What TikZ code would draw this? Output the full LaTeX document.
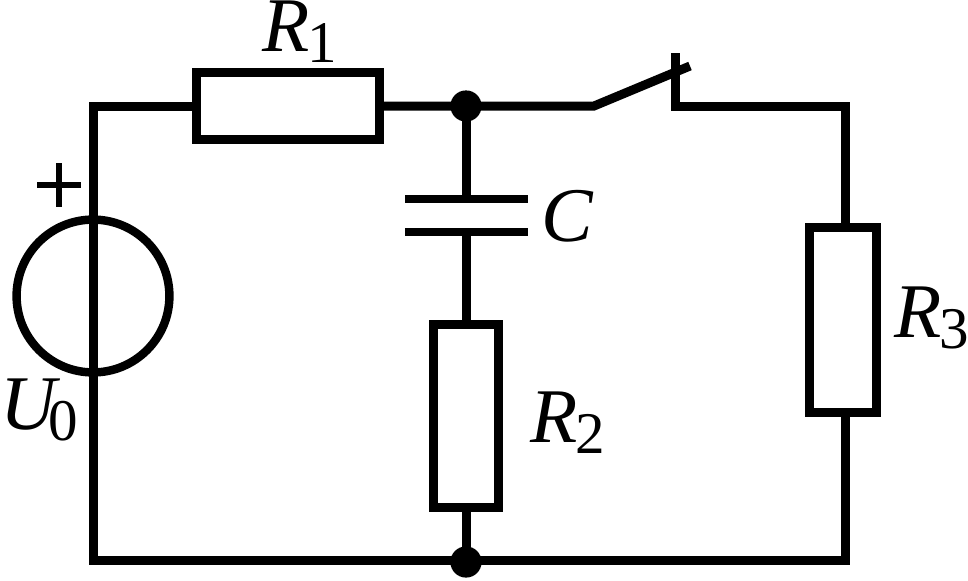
\documentclass[tikz,border=0pt]{standalone}
\usepackage{fontspec}
\setmainfont{Liberation Serif}
\newcommand{\sublbl}[2]{#1\kern-0.06cm\raisebox{-0.28cm}{\normalfont\fontsize{42}{42}\selectfont #2}}
\tikzset{
  wire/.style={line width=6.4pt,line join=miter},
  resistor/.style={draw,line width=6.4pt,outer sep=0pt,inner sep=0pt},
  dot/.style={circle,fill=black,inner sep=0pt,outer sep=0pt,minimum size=0.78cm},
  plate/.style={line width=5.6pt},
  lbl/.style={font=\fontsize{55}{55}\selectfont\itshape,inner sep=0pt,anchor=base west}
}
\begin{document}
\begin{tikzpicture}[x=0.025cm,y=-0.025cm]
  \useasboundingbox (0,0) rectangle (968,580);
  % corners
  \coordinate (lt) at (93,106);
  \coordinate (lb) at (93,560);
  \coordinate (rt) at (845,106);
  \coordinate (rb) at (845,560);
  % switch
  \coordinate (sw1) at (594,106);
  \coordinate (sw2) at (690,66);
  \coordinate (con1) at (675,53);
  \coordinate (con2) at (675,106);
  % capacitor
  \coordinate (capa) at (466,199);
  \coordinate (capb) at (466,232);
  \coordinate (pa1) at (405,199);
  \coordinate (pa2) at (528,199);
  \coordinate (pb1) at (405,232);
  \coordinate (pb2) at (528,232);
  % plus sign
  \coordinate (pl1) at (37,185);
  \coordinate (pl2) at (81,185);
  \coordinate (pl3) at (59,163);
  \coordinate (pl4) at (59,207);

  \node[resistor,minimum width=4.55cm,minimum height=1.65cm] (rone) at (288,106) {};
  \node[resistor,minimum width=1.62cm,minimum height=4.58cm] (rtwo) at (466,416) {};
  \node[resistor,minimum width=1.68cm,minimum height=4.6cm] (rthree) at (843,320) {};
  \node[dot] (top) at (466,106) {};
  \node[dot] (bot) at (466,562) {};
  \node[draw,circle,line width=6pt,minimum size=3.82cm,inner sep=0pt,outer sep=0pt] (src) at (93,296) {};

  \draw[wire] (rone.west) -- (lt) -- (lb) -- (rb) -- (rb |- rthree.south);
  \draw[wire] (rt |- rthree.north) -- (rt) -- (con2) -- (con1);
  \draw[wire] (rone.east) -- (top.center) -- (sw1) -- (sw2);
  \draw[wire] (top.center) -- (capa);
  \draw[wire] (capb) -- (rtwo.north);
  \draw[wire] (rtwo.south) -- (bot.center);
  \draw[plate] (pa1) -- (pa2);
  \draw[plate] (pb1) -- (pb2);
  \draw[line width=4.6pt] (pl1) -- (pl2);
  \draw[line width=4.6pt] (pl3) -- (pl4);

  \node[lbl] (lone) at (262,51) {\sublbl{R}{1}};
  \node[lbl] (ltwo) at (530,442) {\sublbl{R}{2}};
  \node[lbl] (lthree) at (894,337) {\sublbl{R}{3}};
  \node[lbl] (lcap) at (541,241) {C};
  \node[lbl] (lsrc) at (0,429) {\sublbl{U\kern-0.14cm}{0}};
\end{tikzpicture}
\end{document}
